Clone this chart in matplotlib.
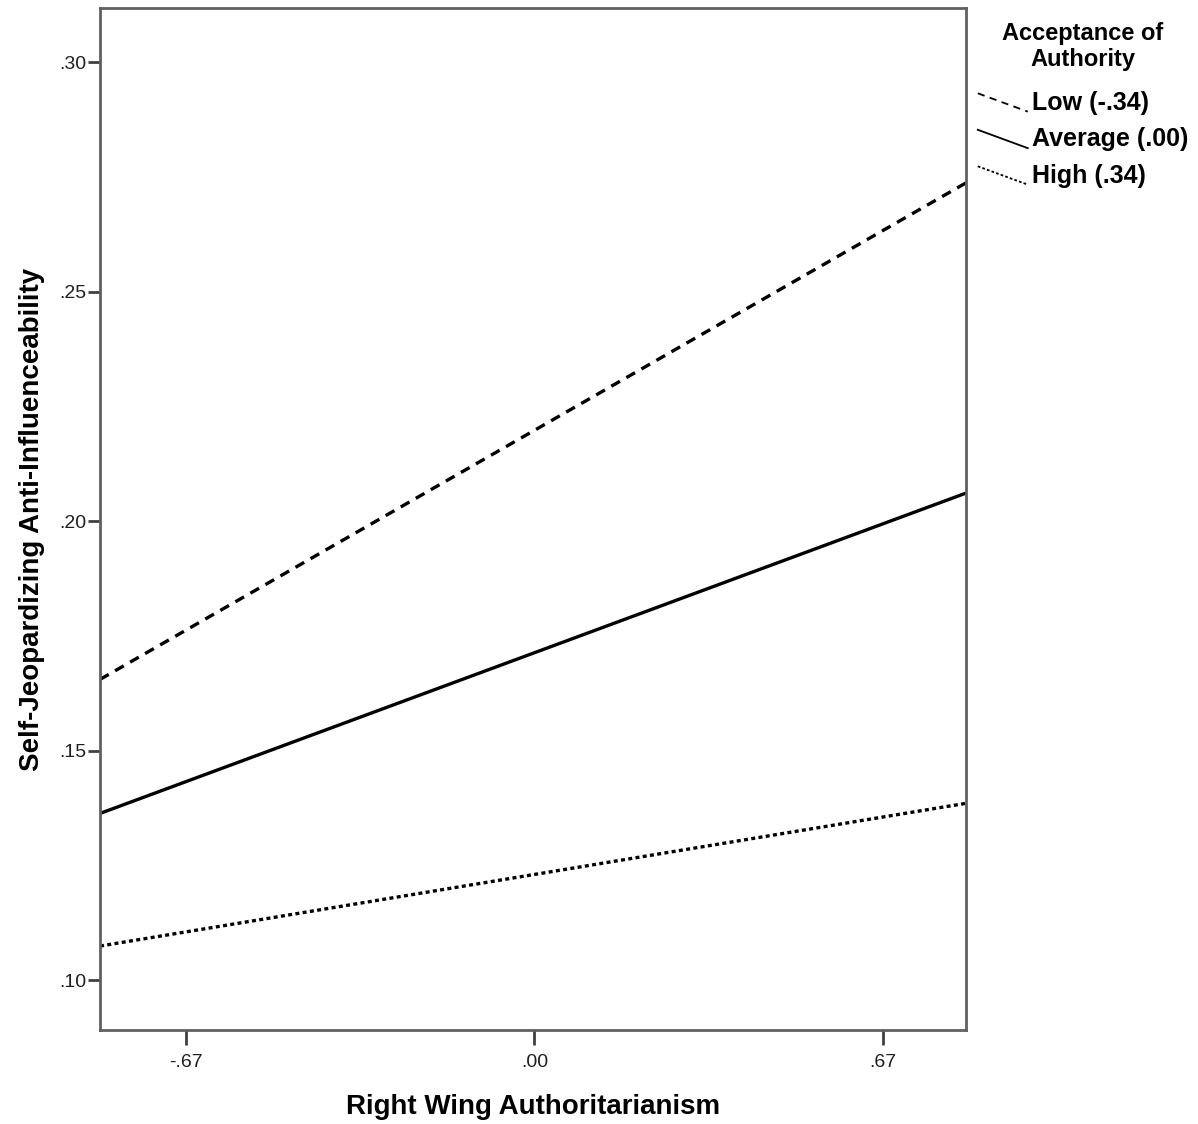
import matplotlib
matplotlib.use('Agg')
import matplotlib.pyplot as plt
from matplotlib.lines import Line2D
from matplotlib.legend_handler import HandlerLine2D

# Simple slopes: predicted values at the ends of the RWA range
rwa_range = [-0.835, 0.83]
low_vals = [0.1655, 0.2737]
avg_vals = [0.1363, 0.2061]
high_vals = [0.1074, 0.1385]

group_labels = ['Low (-.34)', 'Average (.00)', 'High (.34)']
x_ticks = [-0.67, 0.0, 0.67]
x_tick_labels = ['-.67', '.00', '.67']
y_ticks = [0.10, 0.15, 0.20, 0.25, 0.30]
y_tick_labels = ['.10', '.15', '.20', '.25', '.30']


class SlantedLine(HandlerLine2D):
    # legend key drawn as a short line sloping down to the label
    def create_artists(self, legend, orig_handle, xdescent, ydescent,
                       width, height, fontsize, trans):
        line = Line2D([-xdescent, width - xdescent],
                      [height * 0.95, -height * 0.1])
        self.update_prop(line, orig_handle, legend)
        line.set_transform(trans)
        return [line]


plt.rcParams['font.family'] = ['Liberation Sans', 'DejaVu Sans']

fig = plt.figure(figsize=(11.98, 11.24), dpi=100)
ax = fig.add_axes([0.0835, 0.0836, 0.7229, 0.9093])

ax.plot(rwa_range, low_vals, color='black', lw=2.4, linestyle=(0, (3, 2.2)))
ax.plot(rwa_range, avg_vals, color='black', lw=2.4, linestyle='-')
ax.plot(rwa_range, high_vals, color='black', lw=2.4, linestyle=(0, (1.2, 1.0)))

ax.set_xlim(rwa_range)
ax.set_ylim(0.0891, 0.3118)
ax.set_xticks(x_ticks)
ax.set_xticklabels(x_tick_labels)
ax.set_yticks(y_ticks)
ax.set_yticklabels(y_tick_labels)

for s in ax.spines.values():
    s.set_color('#606060')
    s.set_linewidth(2)
ax.tick_params(axis='both', colors='#404040', labelsize=14, width=2, length=9,
               labelcolor='#202020')
ax.tick_params(axis='x', length=11, pad=6)
ax.tick_params(axis='y', pad=1)

ax.set_xlabel('Right Wing Authoritarianism', fontsize=20, fontweight='bold', labelpad=17)
ax.set_ylabel('Self-Jeopardizing Anti-Influenceability', fontsize=20, fontweight='bold',
              labelpad=10)

handles = [
    Line2D([], [], color='black', lw=1.3, linestyle=(0, (4, 3))),
    Line2D([], [], color='black', lw=1.3, linestyle='-'),
    Line2D([], [], color='black', lw=1.3, linestyle=(0, (1.5, 1.2))),
]
leg = fig.legend(handles, group_labels, title='Acceptance of\nAuthority',
                 loc='upper left', bbox_to_anchor=(0.812, 0.985), frameon=False,
                 handlelength=2.0, handletextpad=0.15, labelspacing=0.5,
                 borderaxespad=0, borderpad=0.2,
                 handler_map={Line2D: SlantedLine()},
                 prop={'size': 18, 'weight': 'bold'},
                 title_fontproperties={'size': 17, 'weight': 'bold'})
leg._legend_box.align = 'center'
leg._legend_box.sep = 14
leg.get_title().set_multialignment('center')

fig.savefig('out.png', dpi=100)
